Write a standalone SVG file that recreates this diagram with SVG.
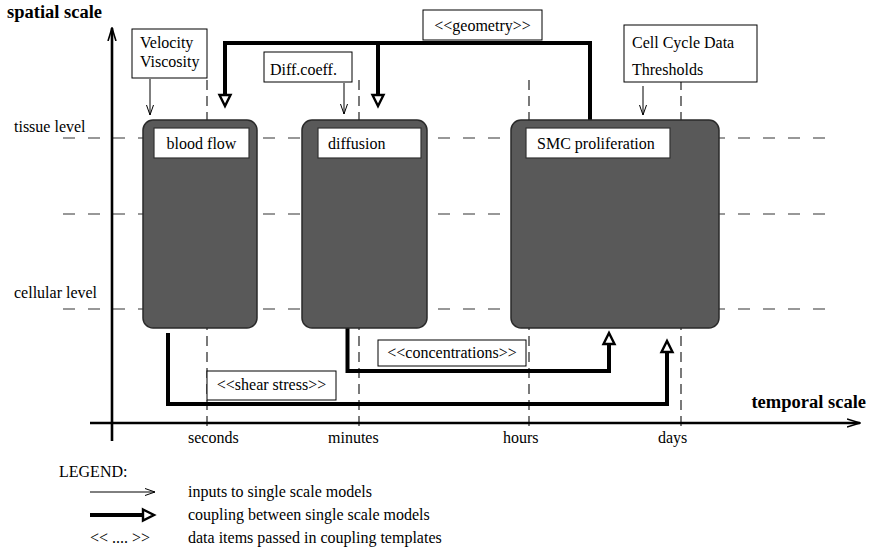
<svg xmlns="http://www.w3.org/2000/svg" width="873" height="551" viewBox="0 0 873 551">
<style>
text{font-family:"Liberation Serif","Times New Roman",serif;font-size:16px;fill:#000}
.title{font-weight:bold;font-size:18.5px}
.hdash{stroke:#777;stroke-width:1.3;stroke-dasharray:12 13;fill:none}
.vdash{stroke:#222;stroke-width:1.2;stroke-dasharray:10 6;fill:none}
.axis{stroke:#000;stroke-width:2.6;fill:none}
.model{fill:#595959;stroke:#2a2a2a;stroke-width:1.5}
.lbl{fill:#fff;stroke:#333;stroke-width:1.2}
.inbox{fill:#fff;stroke:#000;stroke-width:1}
.thin{stroke:#000;stroke-width:1;fill:none;marker-end:url(#vhead)}
.thick{stroke:#000;stroke-width:4;fill:none;stroke-linejoin:miter;stroke-linecap:butt;marker-end:url(#tri)}
</style>
<defs>
<marker id="vhead" markerUnits="userSpaceOnUse" viewBox="0 0 10 8" refX="10" refY="4" markerWidth="10" markerHeight="8" orient="auto">
<path d="M0,0.5 L10,4 L0,7.5" fill="none" stroke="#000" stroke-width="1"/>
</marker>
<marker id="axhead" markerUnits="userSpaceOnUse" viewBox="0 0 14 10" refX="13" refY="5" markerWidth="14" markerHeight="10" orient="auto">
<path d="M0,1 L13,5 L0,9" fill="none" stroke="#000" stroke-width="1.6"/>
</marker>
<marker id="tri" markerUnits="userSpaceOnUse" viewBox="-2 -2 16 16" refX="0" refY="6" markerWidth="16" markerHeight="16" orient="auto">
<path d="M0,0.5 L11,6 L0,11.5 Z" fill="#fff" stroke="#000" stroke-width="2.4" stroke-linejoin="miter"/>
</marker>
</defs>

<g id="grid">
<line class="hdash" x1="63" y1="138" x2="833" y2="138"/>
<line class="hdash" x1="63" y1="214" x2="833" y2="214"/>
<line class="hdash" x1="63" y1="309" x2="833" y2="309"/>
<line class="vdash" x1="207" y1="80" x2="207" y2="432"/>
<line class="vdash" x1="359" y1="80" x2="359" y2="432"/>
<line class="vdash" x1="529" y1="80" x2="529" y2="432"/>
<line class="vdash" x1="681" y1="80" x2="681" y2="432"/>
</g>

<g id="axes">
<line class="axis" x1="112" y1="441" x2="112" y2="28" marker-end="url(#axhead)"/>
<line class="axis" x1="90" y1="423" x2="860" y2="423" marker-end="url(#axhead)"/>
<text class="title" x="7" y="18">spatial scale</text>
<text class="title" x="866" y="408" text-anchor="end">temporal scale</text>
<text x="14" y="132">tissue level</text>
<text x="14" y="298">cellular level</text>
<text x="188" y="443">seconds</text>
<text x="328" y="443">minutes</text>
<text x="503" y="443">hours</text>
<text x="658" y="443">days</text>
</g>

<g id="connectors">
<path class="thick" d="M590,120 V43 H225 V95"/>
<path class="thick" d="M378,43 V95"/>
<path class="thick" d="M347.5,328 V371 H609 V344"/>
<path class="thick" d="M168,333 V404 H667 V352"/>
<line class="thin" x1="150" y1="79" x2="150" y2="115"/>
<line class="thin" x1="344" y1="83" x2="344" y2="114"/>
<line class="thin" x1="643" y1="86" x2="643" y2="115"/>
</g>

<g id="blood-flow">
<rect class="model" x="143" y="120" width="114" height="208" rx="10"/>
<rect class="lbl" x="154" y="128" width="95" height="30"/>
<text x="201.5" y="149" text-anchor="middle">blood flow</text>
</g>
<g id="diffusion">
<rect class="model" x="302" y="120" width="125" height="208" rx="10"/>
<rect class="lbl" x="318" y="128" width="103" height="30"/>
<text x="328" y="149">diffusion</text>
</g>
<g id="smc-proliferation">
<rect class="model" x="511" y="120" width="208" height="208" rx="10"/>
<rect class="lbl" x="526" y="128" width="144" height="30"/>
<text x="537" y="149">SMC proliferation</text>
</g>

<g id="velocity-viscosity">
<rect class="inbox" x="132" y="29" width="75" height="49"/>
<text x="140" y="48">Velocity</text>
<text x="140" y="67">Viscosity</text>
</g>
<g id="diff-coeff">
<rect class="inbox" x="264" y="52" width="88" height="30"/>
<text x="270" y="75">Diff.coeff.</text>
</g>
<g id="cell-cycle">
<rect class="inbox" x="624" y="25" width="133" height="57"/>
<text x="632" y="48">Cell Cycle Data</text>
<text x="632" y="75">Thresholds</text>
</g>

<g id="geometry-label">
<rect class="inbox" x="423" y="10" width="119" height="30"/>
<text x="482.5" y="31" text-anchor="middle">&lt;&lt;geometry&gt;&gt;</text>
</g>
<g id="concentrations-label">
<rect class="inbox" x="378" y="340" width="148" height="26"/>
<text x="452" y="358" text-anchor="middle">&lt;&lt;concentrations&gt;&gt;</text>
</g>
<g id="shear-stress-label">
<rect class="inbox" x="207" y="371" width="129" height="29"/>
<text x="271.5" y="390" text-anchor="middle">&lt;&lt;shear stress&gt;&gt;</text>
</g>

<g id="legend">
<text x="59" y="477">LEGEND:</text>
<line class="thin" x1="90" y1="492" x2="155" y2="492"/>
<text x="188" y="497">inputs to single scale models</text>
<line class="thick" x1="90" y1="515" x2="143" y2="515"/>
<text x="188" y="520">coupling between single scale models</text>
<text x="90" y="543">&lt;&lt; .... &gt;&gt;</text>
<text x="188" y="543">data items passed in coupling templates</text>
</g>
</svg>
